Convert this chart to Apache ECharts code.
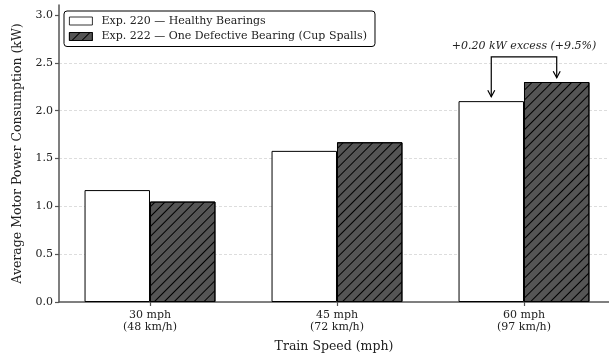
<!DOCTYPE html>
<html>
<head>
<meta charset="utf-8">
<script src="https://cdn.jsdelivr.net/npm/echarts@6/dist/echarts.min.js"></script>
<style>html,body{margin:0;padding:0;background:#fff;}#c{width:609px;height:360px;}</style>
</head>
<body>
<div id="c"></div>
<script>
const categories = ['30 mph\n(48 km/h)', '45 mph\n(72 km/h)', '60 mph\n(97 km/h)'];
const seriesNames = ['Exp. 220 \u2014 Healthy Bearings', 'Exp. 222 \u2014 One Defective Bearing (Cup Spalls)'];
const healthy = [1.17, 1.58, 2.10];
const defective = [1.05, 1.67, 2.30];
const yTicks = [0, 0.5, 1.0, 1.5, 2.0, 2.5, 3.0];
const annotationText = '+0.20 kW excess (+9.5%)';
const annotationIndex = 2;

const FONT = 'DejaVu Serif';
const BAR_FRAC = 0.35;
const X_MIN = -0.4866, X_MAX = 2.4546;
const Y_MAX = 3.105;

const chart = echarts.init(document.getElementById('c'), null, {renderer: 'canvas'});
const catIdx = categories.map((_, i) => i);

const option = {
  animation: false,
  backgroundColor: '#fff',
  textStyle: {fontFamily: FONT},
  grid: {left: 59, top: 5, right: 0, height: 297, containLabel: false},
  legend: {
    orient: 'vertical', left: 64, top: 11,
    icon: 'rect', itemWidth: 23, itemHeight: 8, itemGap: 2.5,
    padding: [3.5, 8, 3.5, 5],
    borderColor: '#000', borderWidth: 1, borderRadius: 3,
    backgroundColor: 'rgba(255,255,255,0.9)',
    itemStyle: {borderWidth: 0.8},
    textStyle: {fontFamily: FONT, fontSize: 11, color: '#222', lineHeight: 13, padding: [0, 0, 0, 4]},
    data: seriesNames
  },
  xAxis: {
    type: 'value', min: X_MIN, max: X_MAX,
    name: 'Train Speed (mph)', nameLocation: 'middle', nameGap: 38,
    nameTextStyle: {fontFamily: FONT, fontSize: 12.5, color: '#222'},
    axisLine: {show: true, onZero: false, lineStyle: {color: '#555', width: 1.5}},
    axisTick: {show: true, length: 4, lineStyle: {color: '#555', width: 1.2}, customValues: catIdx},
    axisLabel: {customValues: catIdx, formatter: v => categories[Math.round(v)], fontFamily: FONT, fontSize: 11, color: '#222', lineHeight: 12, margin: 7},
    splitLine: {show: false}
  },
  yAxis: {
    type: 'value', min: 0, max: Y_MAX, interval: 0.5,
    name: 'Average Motor Power Consumption (kW)', nameLocation: 'middle', nameGap: 35,
    nameTextStyle: {fontFamily: FONT, fontSize: 12.5, color: '#222'},
    axisLine: {show: true, onZero: false, lineStyle: {color: '#555', width: 1.5}},
    axisTick: {show: true, length: 4, lineStyle: {color: '#555', width: 1.2}, customValues: yTicks},
    axisLabel: {customValues: yTicks, formatter: v => v.toFixed(1), fontFamily: FONT, fontSize: 11, color: '#222', margin: 6},
    splitLine: {show: true, showMaxLine: false, showMinLine: false, lineStyle: {color: '#d4d4d4', width: 0.8, type: [3, 2]}}
  },
  series: [
    {
      name: seriesNames[0], type: 'bar', barGap: '0%', barWidth: 65,
      data: healthy.map((v, i) => [i, v]),
      itemStyle: {color: '#ffffff', borderColor: '#000', borderWidth: 1}
    },
    {
      name: seriesNames[1], type: 'bar', barGap: '0%', barWidth: 65,
      data: defective.map((v, i) => [i, v]),
      itemStyle: {
        color: '#555555', borderColor: '#000', borderWidth: 1,
        decal: {symbol: 'rect', symbolSize: 1, color: '#000', dashArrayX: [1, 0], dashArrayY: [0.9, 5.5], rotation: -Math.PI / 4}
      }
    }
  ]
};
chart.setOption(option);

const p0 = chart.convertToPixel({gridIndex: 0}, [0, 0]);
const p1 = chart.convertToPixel({gridIndex: 0}, [1, 0]);
const unit = p1[0] - p0[0];
const bw = BAR_FRAC * unit;

const a = annotationIndex;
const cx = chart.convertToPixel({gridIndex: 0}, [a, 0])[0];
const xl = cx - bw / 2, xr = cx + bw / 2;
const yB = chart.convertToPixel({gridIndex: 0}, [a, 2.563])[1];
const yText = chart.convertToPixel({gridIndex: 0}, [a, 2.68])[1];
const tipL = chart.convertToPixel({gridIndex: 0}, [a, healthy[a] + 0.045])[1];
const tipR = chart.convertToPixel({gridIndex: 0}, [a, defective[a] + 0.045])[1];
const ah = (x, t) => ({type: 'polyline', shape: {points: [[x - 3.5, t - 6.5], [x, t], [x + 3.5, t - 6.5]]}, style: {stroke: '#000', lineWidth: 1.2, fill: null}, z: 100});

chart.setOption({
  series: [{barWidth: bw}, {barWidth: bw}],
  graphic: [
    {type: 'text', x: cx, y: yText, style: {text: annotationText, font: 'italic 11px "DejaVu Serif"', textAlign: 'center', textVerticalAlign: 'middle', fill: '#222'}, z: 100},
    {type: 'polyline', shape: {points: [[xl, tipL], [xl, yB], [xr, yB], [xr, tipR]]}, style: {stroke: '#000', lineWidth: 1.2, fill: null}, z: 100},
    ah(xl, tipL), ah(xr, tipR)
  ]
});
</script>
</body>
</html>
